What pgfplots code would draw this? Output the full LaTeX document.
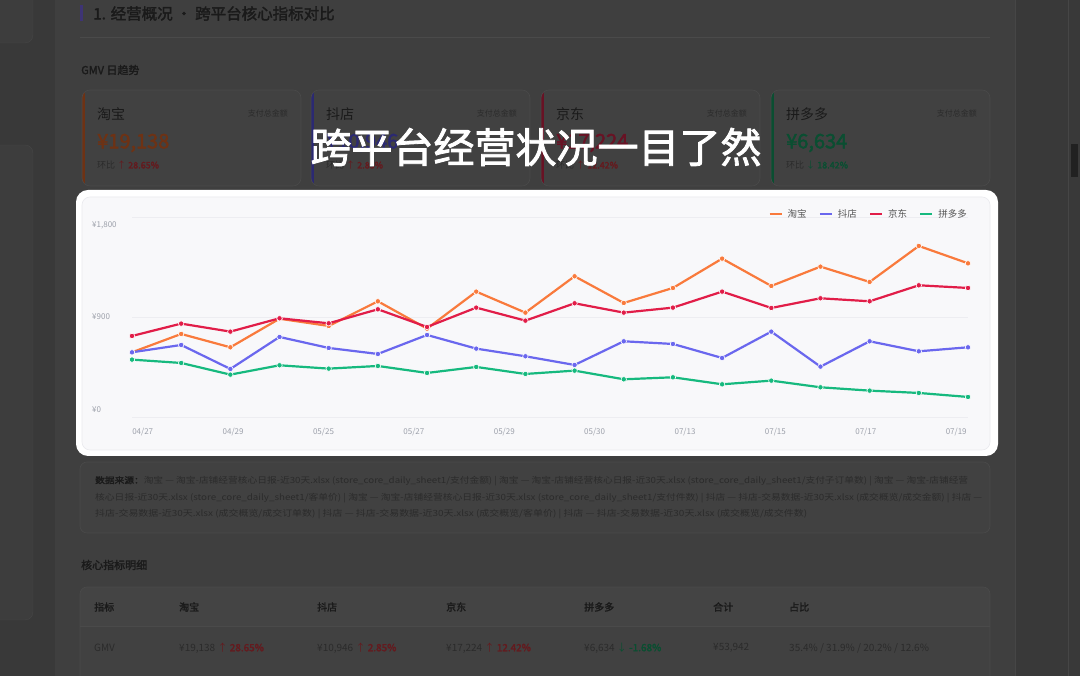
\documentclass[border=0pt]{standalone}
\usepackage{fontspec}
\setmainfont{Noto Sans CJK SC}[AutoFakeBold=2]
\usepackage{graphicx}
\usepackage{pgfplots}
\usepackage{pgfplotstable}
\pgfplotsset{compat=1.18}

\definecolor{cTB}{HTML}{F97A3C}
\definecolor{cDD}{HTML}{6A67EE}
\definecolor{cJD}{HTML}{E11D48}
\definecolor{cPD}{HTML}{16B97E}
\definecolor{bgOut}{HTML}{393939}
\definecolor{bgMain}{HTML}{3F3F3F}
\definecolor{sideFill}{HTML}{3D3D3D}
\definecolor{sideLine}{HTML}{464646}
\definecolor{cardFill}{HTML}{414141}
\definecolor{cardLine}{HTML}{4A4A4A}
\definecolor{headFill}{HTML}{444444}
\definecolor{dTxt}{HTML}{1A1A1A}
\definecolor{gTxt}{HTML}{2B2B2B}
\definecolor{dTB}{HTML}{6E3214}
\definecolor{dDD}{HTML}{2B2972}
\definecolor{dJD}{HTML}{681224}
\definecolor{dPD}{HTML}{0A4E31}
\definecolor{dUp}{HTML}{641A1E}
\definecolor{dPurple}{HTML}{3E3475}
\definecolor{panelIn}{HTML}{F8F8FA}
\definecolor{panelLine}{HTML}{EAEAEE}
\definecolor{gridC}{HTML}{EDEDF1}
\definecolor{tickC}{HTML}{9CA0AA}
\definecolor{legC}{HTML}{555555}

\newcommand\fs[1]{\fontsize{#1}{#1}\selectfont}

% x = day index, tb = 淘宝, dd = 抖店, jd = 京东, pd = 拼多多
\pgfplotstableread{
x  tb    dd   jd    pd
0  585   585  732   519
1  750   651  843   489
2  630   435  771   384
3  887   723  891   468
4  822   624  846   438
5  1044  570  972   462
6  798   741  813   399
7  1131  618  987   453
8  942   549  870   390
9  1269  471  1026  420
10 1029  684  942   342
11 1164  660  987   360
12 1428  534  1131  297
13 1182  771  984   330
14 1356  456  1071  270
15 1218  684  1044  240
16 1542  594  1188  219
17 1386  630  1164  183
}\gmv

\newcommand\card[8]{%
  \begin{scope}
    \path[clip, rounded corners=8pt] (#1,90) rectangle ++(219,96);
    \fill[cardFill] (#1,90) rectangle ++(219,96);
    \fill[#2] (#1,90) rectangle ++(2.5,96);
  \end{scope}
  \draw[cardLine, line width=0.6pt, rounded corners=8pt] (#1,90) rectangle ++(219,96);
  \node[anchor=west, inner sep=0, text=dTxt, font=\fs{14}] at (#1+15,114) {#3};
  \node[anchor=east, inner sep=0, text=gTxt, font=\fs{8}] at (#1+206,113) {支付总金额};
  \node[anchor=west, inner sep=0, text=#5, font=\fs{20}\bfseries] at (#1+15,143) {#4};
  \node[anchor=west, inner sep=0, text=gTxt, font=\fs{9}] at (#1+15,165) {环比 \textcolor{#7}{#6 \bfseries #8}};
}

\begin{document}
\begin{tikzpicture}[x=1pt,y=1pt]
\useasboundingbox (0,0) rectangle (1080,676);
\begin{scope}[yshift=676pt, y=-1pt]
  % page background
  \fill[bgOut] (0,0) rectangle (1080,676);
  \fill[bgMain] (55,0) rectangle (1015,676);
  \draw[sideLine, line width=0.5pt] (1015,0) -- (1015,676);
  \draw[sideLine, line width=0.5pt] (1068,0) -- (1068,676);
  \fill[sideLine!120] (1071,144) rectangle (1078,177);
  % sidebar panels
  \filldraw[fill=sideFill, draw=sideLine, rounded corners=8pt] (-10,-10) rectangle (33,43);
  \filldraw[fill=sideFill, draw=sideLine, rounded corners=8pt] (-10,145) rectangle (33,620);
  % section header
  \fill[dPurple] (80,5) rectangle (82.5,21);
  \node[anchor=west, inner sep=0, text=dTxt, font=\fs{15.5}\bfseries] at (93,13.5) {1. 经营概况 · 跨平台核心指标对比};
  \draw[cardLine, line width=0.5pt] (80,37) -- (990,37);
  \node[anchor=west, inner sep=0, text=dTxt, font=\fs{11}\bfseries] at (81,70) {GMV 日趋势};
  % KPI cards
  \card{82}{dTB}{淘宝}{¥19,138}{dTB}{↑}{dUp}{28.65\%}
  \card{311}{dDD}{抖店}{¥10,946}{dDD}{↑}{dUp}{2.85\%}
  \card{541}{dJD}{京东}{¥17,224}{dJD}{↑}{dUp}{12.42\%}
  \card{771}{dPD}{拼多多}{¥6,634}{dPD}{↓}{dPD}{18.42\%}
  % overlay title
  \node[inner sep=0, text=white, font=\fs{41}\bfseries] at (536,147) {跨平台经营状况一目了然};
  % data source box
  \filldraw[fill=cardFill, draw=cardLine, line width=0.6pt, rounded corners=7pt] (80,462) rectangle (990,533);
  \node[anchor=west, inner sep=0, text=gTxt] at (95,481) {\resizebox{873pt}{\height}{\fs{8.5}\textcolor{dTxt}{\bfseries 数据来源：}淘宝 — 淘宝-店铺经营核心日报-近30天.xlsx (store\_core\_daily\_sheet1/支付金额) | 淘宝 — 淘宝-店铺经营核心日报-近30天.xlsx (store\_core\_daily\_sheet1/支付子订单数) | 淘宝 — 淘宝-店铺经营}};
  \node[anchor=west, inner sep=0, text=gTxt] at (95,498) {\resizebox{887pt}{\height}{\fs{8.5}核心日报-近30天.xlsx (store\_core\_daily\_sheet1/客单价) | 淘宝 — 淘宝-店铺经营核心日报-近30天.xlsx (store\_core\_daily\_sheet1/支付件数) | 抖店 — 抖店-交易数据-近30天.xlsx (成交概览/成交金额) | 抖店 —}};
  \node[anchor=west, inner sep=0, text=gTxt] at (95,514) {\resizebox{712pt}{\height}{\fs{8.5}抖店-交易数据-近30天.xlsx (成交概览/成交订单数) | 抖店 — 抖店-交易数据-近30天.xlsx (成交概览/客单价) | 抖店 — 抖店-交易数据-近30天.xlsx (成交概览/成交件数)}};
  % table
  \node[anchor=west, inner sep=0, text=dTxt, font=\fs{11}\bfseries] at (81,565) {核心指标明细};
  \begin{scope}
    \path[clip, rounded corners=7pt] (80,587) rectangle (990,700);
    \fill[cardFill] (80,587) rectangle (990,700);
    \fill[headFill] (80,587) rectangle (990,626);
  \end{scope}
  \draw[cardLine, line width=0.6pt, rounded corners=7pt] (80,700) -- (80,587) -- (990,587) -- (990,700);
  \draw[cardLine, line width=0.6pt] (80,626) -- (990,626);
  \foreach \xx/\tt in {94/指标, 179/淘宝, 317/抖店, 446/京东, 584/拼多多, 713/合计, 789/占比}
    \node[anchor=west, inner sep=0, text=dTxt, font=\fs{10}\bfseries] at (\xx,607) {\tt};
  \node[anchor=west, inner sep=0, text=gTxt, font=\fs{10}] at (94,648) {GMV};
  \node[anchor=west, inner sep=0, text=gTxt, font=\fs{10}] at (179,648) {¥19,138 \textcolor{dUp}{↑ \bfseries 28.65\%}};
  \node[anchor=west, inner sep=0, text=gTxt, font=\fs{10}] at (317,648) {¥10,946 \textcolor{dUp}{↑ \bfseries 2.85\%}};
  \node[anchor=west, inner sep=0, text=gTxt, font=\fs{10}] at (446,648) {¥17,224 \textcolor{dUp}{↑ \bfseries 12.42\%}};
  \node[anchor=west, inner sep=0, text=gTxt, font=\fs{10}] at (584,648) {¥6,634 \textcolor{dPD}{↓ \bfseries -1.68\%}};
  \node[anchor=west, inner sep=0, text=gTxt, font=\fs{10}] at (713,648) {¥53,942};
  \node[anchor=west, inner sep=0, text=gTxt, font=\fs{10}] at (789,648) {35.4\% / 31.9\% / 20.2\% / 12.6\%};
  % highlighted chart panel
  \fill[white, rounded corners=12pt] (76,190) rectangle (998,456);
  \filldraw[fill=panelIn, draw=panelLine, line width=0.6pt, rounded corners=8pt] (82,197) rectangle (990,450);
\end{scope}

\begin{axis}[
  at={(132pt,258.7pt)}, anchor=south west,
  scale only axis, width=836pt, height=200pt,
  xmin=0, xmax=17, ymin=0, ymax=1800,
  clip=false,
  axis line style={draw=none},
  major tick length=0pt,
  ytick={0,900,1800}, yticklabels={},
  ymajorgrids, grid style={color=gridC, line width=0.7pt},
  xtick={0.218,2.056,3.894,5.732,7.570,9.408,11.246,13.084,14.922,16.760},
  xticklabels={04/27,04/29,05/25,05/27,05/29,05/30,07/13,07/15,07/17,07/19},
  xticklabel style={font=\fs{8}, text=tickC, yshift=-7pt},
  /pgf/number format/assume math mode=true,
  legend columns=4,
  legend style={at={(1,1)}, anchor=east, yshift=3pt, xshift=1pt, draw=none, fill=none,
    font=\fs{9.5}, text=legC, inner sep=0pt,
    /tikz/every odd column/.append style={column sep=3pt},
    /tikz/every even column/.append style={column sep=10pt}},
  legend image code/.code={\draw[line width=2.2pt] (0pt,0pt) -- (12pt,0pt);},
  every axis plot/.append style={line width=2.2pt, mark=*, mark size=2.7pt,
    mark options={draw=white, line width=0.6pt}},
]
\addplot[color=cTB] table[x=x, y=tb] {\gmv};
\addlegendentry{淘宝}
\addplot[color=cDD] table[x=x, y=dd] {\gmv};
\addlegendentry{抖店}
\addplot[color=cJD] table[x=x, y=jd] {\gmv};
\addlegendentry{京东}
\addplot[color=cPD] table[x=x, y=pd] {\gmv};
\addlegendentry{拼多多}
\node[anchor=west, inner sep=0, text=tickC, font=\fs{8}] at (axis cs:-0.813,1731) {¥1,800};
\node[anchor=west, inner sep=0, text=tickC, font=\fs{8}] at (axis cs:-0.813,903) {¥900};
\node[anchor=west, inner sep=0, text=tickC, font=\fs{8}] at (axis cs:-0.813,66) {¥0};
\end{axis}
\end{tikzpicture}
\end{document}
